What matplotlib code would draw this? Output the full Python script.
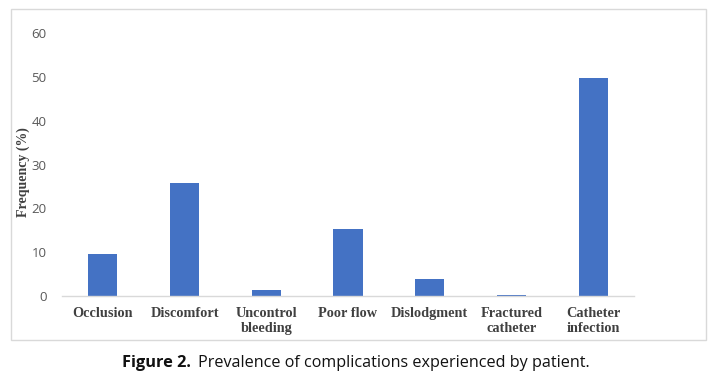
import matplotlib
matplotlib.use("Agg")
import matplotlib.pyplot as plt
from matplotlib.patches import Rectangle

# data
categories = ["Occlusion", "Discomfort", "Uncontrol\nbleeding", "Poor flow",
              "Dislodgment", "Fractured\ncatheter", "Catheter\ninfection"]
frequency = [9.6, 25.8, 1.4, 15.3, 3.9, 0.3, 49.8]
yticks = [0, 10, 20, 30, 40, 50, 60]

W, H = 710, 374
fig = plt.figure(figsize=(W / 100, H / 100), dpi=100)

# outer chart border
fig.patches.append(Rectangle((11 / W, 1 - 340 / H), (706 - 11) / W, (340 - 9) / H,
                             transform=fig.transFigure, fill=False,
                             edgecolor="#d9d9d9", linewidth=1.0))

ax = fig.add_axes([62 / W, 1 - 296 / H, (634 - 62) / W, (296 - 33) / H])
x = range(len(categories))
ax.bar(x, frequency, width=0.355, color="#4472c4")
ax.set_xlim(-0.5, len(categories) - 0.5)
ax.set_ylim(0, 60)
ax.set_yticks(yticks)
ax.set_yticklabels([str(v) for v in yticks], fontfamily="Open Sans",
                   fontsize=9.5, color="#595959")
ax.set_xticks(list(x))
ax.set_xticklabels(categories, fontfamily="Liberation Serif", fontweight="bold",
                   fontsize=10.3, color="#404040", linespacing=1.15)
ax.tick_params(axis="y", length=0, pad=11)
ax.tick_params(axis="x", length=0, pad=8)
for s in ["top", "right", "left"]:
    ax.spines[s].set_visible(False)
ax.spines["bottom"].set_color("#d9d9d9")
ax.spines["bottom"].set_linewidth(1.0)

fig.text(23 / W, 1 - 172 / H, "Frequency (%)", rotation=90, ha="center", va="center",
         fontfamily="Liberation Serif", fontweight="bold", fontsize=10, color="#404040")

# caption: bold "Figure 2." followed by regular text
cap_y = 1 - 363 / H
t1 = fig.text(122 / W, cap_y, "Figure 2.", fontfamily="Open Sans", fontweight="bold",
              fontsize=11.8, va="center", ha="left", color="#111111")
fig.canvas.draw()
bb = t1.get_window_extent()
fig.text((bb.x1 + 7) / W, cap_y, "Prevalence of complications experienced by patient.",
         fontfamily="Open Sans", fontsize=11.6, va="center", ha="left", color="#111111")

fig.savefig("out.png", dpi=100)
